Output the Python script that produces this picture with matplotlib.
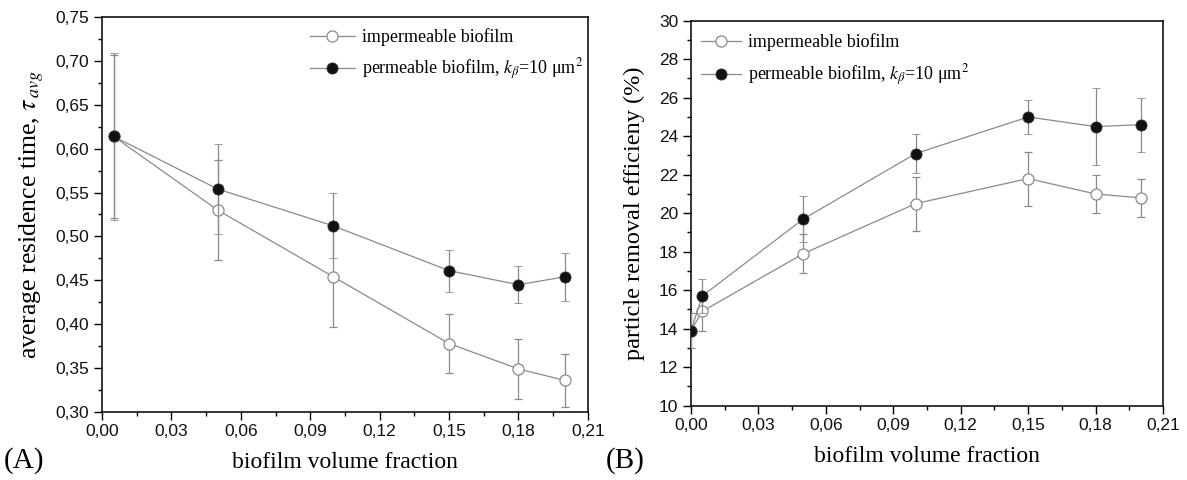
import numpy as np
import matplotlib
matplotlib.use("Agg")
import matplotlib.pyplot as plt
from matplotlib.lines import Line2D
from matplotlib.ticker import MultipleLocator, FuncFormatter

plt.rcParams['font.family'] = 'Liberation Serif'
plt.rcParams['mathtext.fontset'] = 'stix'

# (A) average residence time
xa = [0.005, 0.05, 0.10, 0.15, 0.18, 0.20]
tau_imp = [0.614, 0.530, 0.454, 0.378, 0.349, 0.336]
tau_imp_err = [0.093, 0.057, 0.057, 0.034, 0.034, 0.030]
tau_perm = [0.614, 0.554, 0.512, 0.461, 0.445, 0.454]
tau_perm_err = [0.095, 0.051, 0.037, 0.024, 0.021, 0.027]

# (B) particle removal efficiency
xb = [0.0, 0.005, 0.05, 0.10, 0.15, 0.18, 0.20]
eff_imp = [13.9, 14.9, 17.9, 20.5, 21.8, 21.0, 20.8]
eff_imp_err = [0.9, 1.0, 1.0, 1.4, 1.4, 1.0, 1.0]
eff_perm = [13.9, 15.7, 19.7, 23.1, 25.0, 24.5, 24.6]
eff_perm_err = [0.9, 0.9, 1.2, 1.0, 0.9, 2.0, 1.4]

lbl_imp = 'impermeable biofilm'
lbl_perm = r'permeable biofilm, $k_\beta$=10 μm$^2$'

gray = '#8a8a8a'
imp_style = dict(color=gray, lw=0.9, marker='o', ms=8, mfc='white', mec=gray, mew=0.9)
perm_style = dict(color=gray, lw=0.9, marker='o', ms=8, mfc='#111111', mec='#333333', mew=0.6)

fig = plt.figure(figsize=(11.87, 4.8), dpi=100)
axA = fig.add_axes([0.0859, 0.1417, 0.4094, 0.8229])
axB = fig.add_axes([0.5821, 0.1548, 0.3977, 0.8020])


def draw(ax, x, y1, e1, y2, e2, anchor, hlen):
    ax.errorbar(x, y1, yerr=e1, elinewidth=0.9, capsize=3, capthick=0.9,
                ecolor=gray, zorder=3, **imp_style)
    ax.errorbar(x, y2, yerr=e2, elinewidth=0.9, capsize=3, capthick=0.9,
                ecolor=gray, zorder=4, **perm_style)
    ax.set_xlim(0, 0.21)
    ax.xaxis.set_major_locator(MultipleLocator(0.03))
    ax.xaxis.set_minor_locator(MultipleLocator(0.015))
    ax.xaxis.set_major_formatter(FuncFormatter(lambda v, p: f'{v:.2f}'.replace('.', ',')))
    ax.tick_params(which='major', direction='out', length=6, width=1, pad=3,
                   labelsize=12.5, labelfontfamily='Liberation Sans', labelcolor='#111111')
    ax.tick_params(which='minor', direction='out', length=3, width=1)
    for s in ax.spines.values():
        s.set_linewidth(1.1)
    ax.set_xlabel('biofilm volume fraction', fontsize=17, labelpad=9)
    handles = [Line2D([], [], **imp_style), Line2D([], [], **perm_style)]
    ax.legend(handles, [lbl_imp, lbl_perm], loc='upper left', bbox_to_anchor=anchor,
              frameon=False, fontsize=13, handlelength=hlen, handletextpad=0.4,
              borderpad=0, labelspacing=0.6)


draw(axA, xa, tau_imp, tau_imp_err, tau_perm, tau_perm_err, (0.409, 0.995), 2.5)
axA.set_ylim(0.30, 0.75)
axA.yaxis.set_major_locator(MultipleLocator(0.05))
axA.yaxis.set_minor_locator(MultipleLocator(0.025))
axA.yaxis.set_major_formatter(FuncFormatter(lambda v, p: f'{v:.2f}'.replace('.', ',')))
axA.set_ylabel(r'average residence time, $\tau_{\,avg}$', fontsize=18.5, labelpad=7)

draw(axB, xb, eff_imp, eff_imp_err, eff_perm, eff_perm_err, (0.003, 0.99), 2.2)
axB.set_ylim(10, 30)
axB.yaxis.set_major_locator(MultipleLocator(2))
axB.yaxis.set_minor_locator(MultipleLocator(1))
axB.yaxis.set_major_formatter(FuncFormatter(lambda v, p: f'{v:.0f}'))
axB.set_ylabel('particle removal efficieny (%)', fontsize=17.5, labelpad=10)

fig.text(0.020, 0.04, '(A)', fontsize=21, ha='center', va='center')
fig.text(0.527, 0.04, '(B)', fontsize=21, ha='center', va='center')

fig.savefig('out.png', dpi=100)
